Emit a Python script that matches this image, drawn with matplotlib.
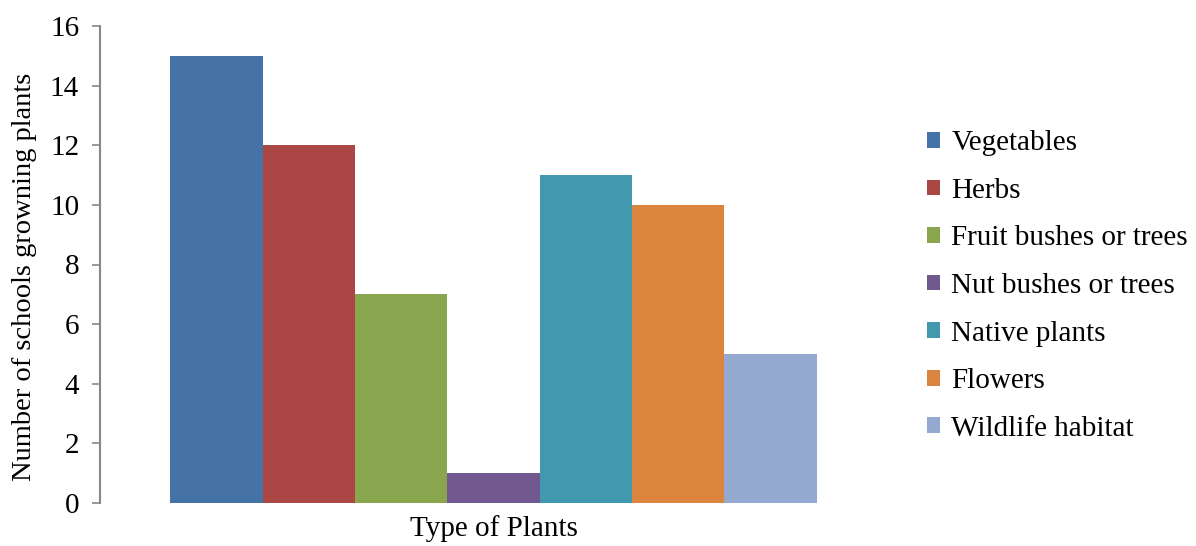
import numpy as np
import matplotlib.pyplot as plt

plt.rcParams['font.family'] = ['Liberation Serif', 'DejaVu Serif']

# --- Data ---
plant_types = ['Vegetables', 'Herbs', 'Fruit bushes or trees', 'Nut bushes or trees',
               'Native plants', 'Flowers', 'Wildlife habitat']
school_counts = [15, 12, 7, 1, 11, 10, 5]
category = 'Type of Plants'

colors = ['#4572A7', '#AA4643', '#89A54E', '#71588F', '#4198AF', '#DB843D', '#93A9CF']

fig = plt.figure(figsize=(11.96, 5.46), dpi=100)
ax = fig.add_axes([100 / 1196, 43 / 546, 787 / 1196, 477 / 546])

n = len(plant_types)
offsets = np.arange(n) - (n - 1) / 2
for off, label, val, col in zip(offsets, plant_types, school_counts, colors):
    ax.bar(off, val, width=1.0, color=col, label=label)

ax.set_xlim(-4.26, 4.26)
ax.set_ylim(0, 16)
ax.set_yticks(range(0, 17, 2))
ax.set_xticks([0])
ax.set_xticklabels([category])
ax.tick_params(axis='x', length=0, labelsize=21, pad=9)
ax.tick_params(axis='y', length=6, width=1.2, color='#888888', labelsize=21, pad=9)
ax.set_ylabel('Number of schools growning plants', fontsize=20.5)
ax.yaxis.set_label_coords(-0.08, 0.474)

for s in ['top', 'right', 'bottom']:
    ax.spines[s].set_visible(False)
ax.spines['left'].set_color('#888888')
ax.spines['left'].set_linewidth(1.5)

ax.legend(loc='center left', bbox_to_anchor=(1.017, 0.455), frameon=False,
          fontsize=21, handlelength=0.45, handleheight=0.45, handletextpad=0.4,
          labelspacing=0.74)

fig.savefig('out.png', dpi=100)
